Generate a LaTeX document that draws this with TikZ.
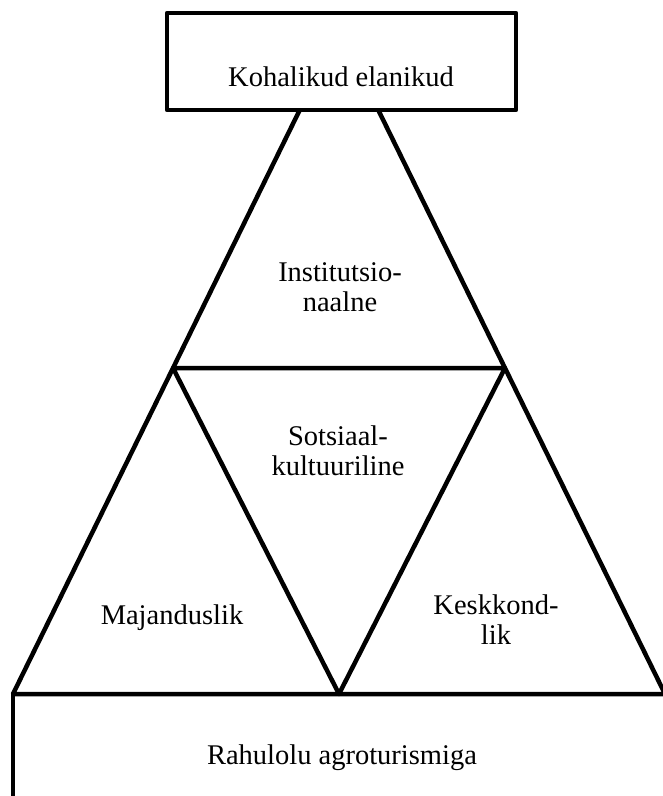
\documentclass[tikz,border=0pt]{standalone}
\usepackage{fontspec}
\setmainfont{Liberation Serif}
\usetikzlibrary{positioning}

\tikzset{
    edge/.style={line width=4.5pt, line join=round, line cap=round},
    lbl/.style={font=\fontsize{28.5}{30}\selectfont, align=center, inner sep=0pt},
    topbox/.style={draw, line width=4.5pt, line join=round, fill=white,
        minimum width=349pt, minimum height=97pt, inner sep=0pt}
}

\begin{document}
\begin{tikzpicture}[x=1pt, y=-1pt]
    \useasboundingbox (0,0) rectangle (663,796);

    % Corners
    \coordinate (apex) at (339,30);
    \coordinate (bl) at (13,694);
    \coordinate (br) at (665,694);
    \coordinate (ml) at (173,368);
    \coordinate (mr) at (505,368);
    \coordinate (mb) at (339,694);
    \coordinate (foot) at (13,800);

    % Triangles
    \draw[edge] (apex) -- (bl) -- (br) -- cycle;
    \draw[edge] (ml) -- (mr) -- (mb) -- cycle;
    \draw[edge] (bl) -- (foot);

    % Top box
    \node[topbox] (top) at (341.5,61.5) {};
    \node[lbl] (toptxt) at (341,77) {Kohalikud elanikud};

    % Labels
    \node[lbl] (inst) at (340,287) {Institutsio-\\naalne};
    \node[lbl] (sots) at (338,451) {Sotsiaal-\\kultuuriline};
    \node[lbl] (maj) at (172,618) {Majanduslik};
    \node[lbl] (kesk) at (496,620) {Keskkond-\\lik};
    \node[lbl] (rahul) at (342,758) {Rahulolu agroturismiga};
\end{tikzpicture}
\end{document}
